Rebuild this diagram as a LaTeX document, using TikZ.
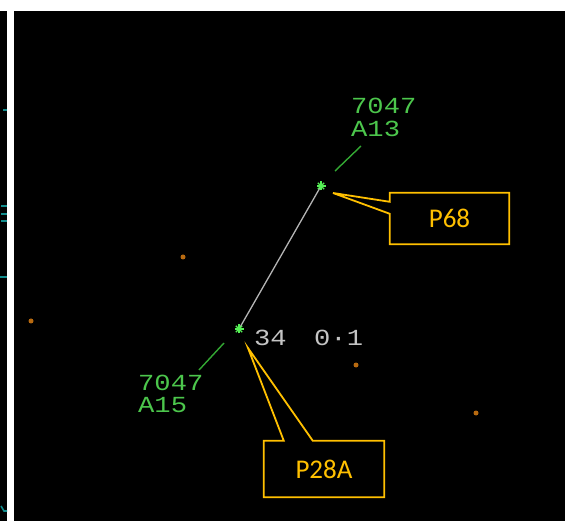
\documentclass[tikz,border=0pt]{standalone}
\usepackage{fontspec}
\usetikzlibrary{calc}
\setmainfont{Carlito}
\newfontfamily\radar{Liberation Mono}
\definecolor{radargreen}{HTML}{4CC64C}
\definecolor{stargreen}{HTML}{55F055}
\definecolor{leadgreen}{HTML}{33A833}
\definecolor{trackgrey}{HTML}{B4B4B4}
\definecolor{textgrey}{HTML}{C4C4C4}
\definecolor{callgold}{HTML}{FFC000}
\definecolor{dotorange}{HTML}{B86A10}
\definecolor{scopecyan}{HTML}{128C8C}
\newcommand{\wide}[1]{\scalebox{1.18}[1]{#1}}
\tikzset{
  tag/.style={font=\radar\fontsize{23}{23}\selectfont, text=radargreen, inner sep=0pt, anchor=base west},
  greytag/.style={font=\radar\fontsize{23}{23}\selectfont, text=textgrey, inner sep=0pt, anchor=base west},
  target/.style={circle, inner sep=0pt, minimum size=8pt},
  leader/.style={draw=leadgreen, line width=1.4pt},
  track/.style={draw=trackgrey, line width=1.3pt},
  callbox/.style={rectangle, draw=none, inner sep=0pt, font=\fontsize{27}{27}\selectfont, text=callgold},
  callline/.style={draw=callgold, line width=1.8pt, line join=miter},
  blip/.style={circle, fill=dotorange, inner sep=0pt, minimum size=5pt},
  tick/.style={draw=scopecyan, line width=1.6pt}
}
\newcommand{\starmark}[1]{%
  \foreach \a in {0,45,90,135}{\draw[stargreen, line width=1.3pt] ($(#1)+(\a:4.5)$) -- ($(#1)+(\a+180:4.5)$);}%
  \fill[stargreen] (#1) circle (2.3);}
\begin{document}
\begin{tikzpicture}[x=1pt,y=-1pt]
\useasboundingbox (0,0) rectangle (565,521);
% backgrounds
\fill[white] (0,0) rectangle (565,521);
\fill[black] (0,11) rectangle (7,521);
\fill[black] (14,11) rectangle (565,521);
% cyan marks on the neighbouring scope
\draw[tick] (3,110) -- (7,110);
\draw[tick] (1,206) -- (7,206);
\draw[tick] (1,214) -- (7,214);
\draw[tick] (1,221) -- (7,221);
\draw[tick] (0,277) -- (7,277);
\draw[tick] (1,506) -- (4,511) -- (7,511);
% blips
\node[blip] (b1) at (183,257) {};
\node[blip] (b2) at (31,321) {};
\node[blip] (b3) at (356,365) {};
\node[blip] (b4) at (476,413) {};
% targets
\node[target] (t1) at (321,186) {};
\node[target] (t2) at (239,329) {};
\draw[track] (t1.center) -- (t2.center);
\starmark{t1}
\starmark{t2}
% labels
\node[tag] (l1a) at (351,114) {\wide{7047}};
\node[tag] (l1b) at (351,137) {\wide{A13}};
\node[tag] (l2a) at (138,390) {\wide{7047}};
\node[tag] (l2b) at (138,412) {\wide{A15}};
\coordinate (e1a) at (335,171);
\coordinate (e1b) at (361,146);
\coordinate (e2a) at (224,343);
\coordinate (e2b) at (199,370);
\draw[leader] (e1a) -- (e1b);
\draw[leader] (e2a) -- (e2b);
\node[greytag] (rng) at (254,345) {\wide{34}};
\node[greytag] (sep) at (314,345) {\wide{0·1}};
% callouts
\node[callbox, minimum width=119pt, minimum height=51pt] (p68) at (449.5,218.5) {P68};
\node[callbox, minimum width=120pt, minimum height=56pt] (p28) at (324,469) {P28A};
\coordinate (tip68) at (333,193);
\coordinate (tip28) at (248,348);
\draw[callline] (p68.north west) -- (p68.north east) -- (p68.south east) -- (p68.south west)
  -- ([yshift=-21pt]p68.north west) -- (tip68) -- ([yshift=-9pt]p68.north west) -- cycle;
\draw[callline] (p28.north west) -- ([xshift=20pt]p28.north west) -- (tip28)
  -- ([xshift=49pt]p28.north west) -- (p28.north east) -- (p28.south east) -- (p28.south west) -- cycle;
\end{tikzpicture}
\end{document}
